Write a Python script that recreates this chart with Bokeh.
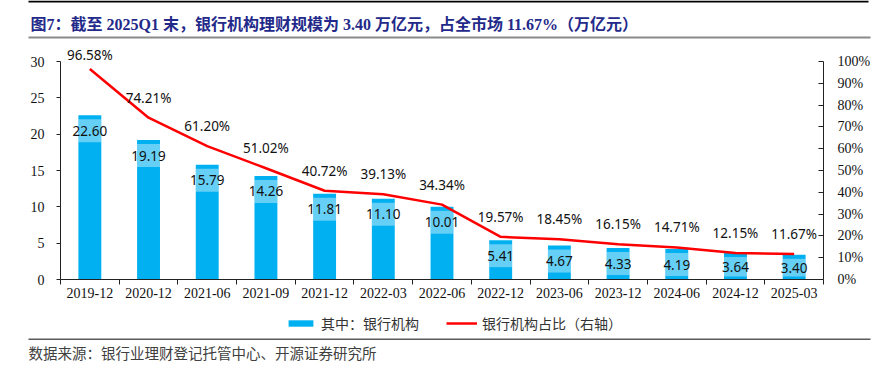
from bokeh.plotting import figure
from bokeh.models import (ColumnDataSource, Range1d, LinearAxis, FixedTicker,
                          PrintfTickFormatter, Legend, LegendItem, Label, BoxAnnotation)
from bokeh.core.properties import value
from bokeh.embed import file_html
from bokeh.resources import INLINE

# ---------------- data ----------------
categories = ["2019-12", "2020-12", "2021-06", "2021-09", "2021-12", "2022-03", "2022-06",
              "2022-12", "2023-06", "2023-12", "2024-06", "2024-12", "2025-03"]
bank_scale = [22.60, 19.19, 15.79, 14.26, 11.81, 11.10, 10.01, 5.41, 4.67, 4.33, 4.19, 3.64, 3.40]
bank_share = [96.58, 74.21, 61.20, 51.02, 40.72, 39.13, 34.34, 19.57, 18.45, 16.15, 14.71, 12.15, 11.67]
left_ticks = [0, 5, 10, 15, 20, 25, 30]
right_ticks = [0, 10, 20, 30, 40, 50, 60, 70, 80, 90, 100]
title_text = "图7：截至 2025Q1 末，银行机构理财规模为 3.40 万亿元，占全市场 11.67%（万亿元）"
source_text = "数据来源：银行业理财登记托管中心、开源证券研究所"
legend_bar = "其中：银行机构"
legend_line = "银行机构占比（右轴）"

# ---------------- layout constants (canvas pixels) ----------------
W, H = 880, 377
AX_L, AX_R, AX_T, AX_B = 60, 823, 61, 279   # where the axes box sits on the canvas

BLUE = "#00B0F0"
RED = "#FF0000"
SERIF = "Liberation Serif"
SANS = "Noto Sans"
CJK = "Noto Sans CJK SC"
AXIS_C = "#222222"

n = len(categories)
xs = list(range(n))
px_cat = (AX_R - AX_L) / n
px_unit = (AX_B - AX_T) / (left_ticks[-1] - left_ticks[0])
x_start = -0.5 - AX_L / px_cat
x_end = n - 0.5 + (W - AX_R) / px_cat
y_start = left_ticks[0] - (H - AX_B) / px_unit
y_end = left_ticks[-1] + AX_T / px_unit
r_scale = (right_ticks[-1] - right_ticks[0]) / (left_ticks[-1] - left_ticks[0])

box_top = [v - 4 / px_unit for v in bank_scale]
box_bot = [max(t - 23 / px_unit, 3 / px_unit) for t in box_top]
box_mid = [(a + b) / 2 for a, b in zip(box_top, box_bot)]
pct_off = [-14] + [-20] * (n - 1)

src = ColumnDataSource(dict(
    x=xs, v=bank_scale, s=bank_share,
    bt=box_top, bb=box_bot, bm=box_mid,
    vl=[f"{v:.2f}" for v in bank_scale],
    sl=[f"{s:.2f}%" for s in bank_share],
    so=pct_off,
))

p = figure(width=W, height=H, output_backend="svg", toolbar_location=None,
           x_range=Range1d(x_start, x_end), y_range=Range1d(y_start, y_end),
           min_border=0, background_fill_color="white", border_fill_color="white")
p.outline_line_color = None
p.xgrid.visible = False
p.ygrid.visible = False
p.extra_y_ranges = {"pct": Range1d(y_start * r_scale, y_end * r_scale)}

bars = p.vbar(x="x", top="v", width=0.39, source=src, fill_color=BLUE, line_color=None)
p.vbar(x="x", top="bt", bottom="bb", width=0.39, source=src,
       fill_color="white", fill_alpha=0.4, line_color=None)
p.text(x="x", y="bm", text="vl", source=src, text_align="center", text_baseline="middle",
       text_font=value(SANS), text_font_size="13.5px", text_color="#111111")

line = p.line(x="x", y="s", source=src, y_range_name="pct", line_color=RED, line_width=2.5)
p.text(x="x", y="s", text="sl", source=src, y_range_name="pct", y_offset="so",
       text_align="center", text_baseline="middle",
       text_font=value(SANS), text_font_size="13.5px", text_color="#111111")

# ---------------- axes ----------------
for ax in [p.xaxis[0], p.yaxis[0]]:
    ax.axis_line_color = AXIS_C
    ax.major_tick_line_color = AXIS_C
    ax.major_label_text_font = SERIF
    ax.major_label_text_font_size = "14px"
    ax.major_label_text_color = "#111111"

ya = p.yaxis[0]
ya.ticker = FixedTicker(ticks=left_ticks)
ya.bounds = (left_ticks[0], left_ticks[-1])
ya.fixed_location = -0.5
ya.major_tick_in = 0
ya.major_tick_out = 4
ya.minor_tick_line_color = None
ya.major_label_standoff = 12

xa = p.xaxis[0]
xa.ticker = FixedTicker(ticks=xs, minor_ticks=[i - 0.5 for i in range(n + 1)])
xa.major_label_overrides = {i: c for i, c in enumerate(categories)}
xa.bounds = (-0.5, n - 0.5)
xa.fixed_location = left_ticks[0]
xa.major_tick_in = 0
xa.major_tick_out = 0
xa.minor_tick_in = 0
xa.minor_tick_out = 5
xa.minor_tick_line_color = AXIS_C
xa.major_label_standoff = 3

ra = LinearAxis(y_range_name="pct", ticker=FixedTicker(ticks=right_ticks),
                formatter=PrintfTickFormatter(format="%d%%"),
                bounds=(right_ticks[0], right_ticks[-1]), fixed_location=n - 0.5)
ra.axis_line_color = AXIS_C
ra.major_tick_line_color = AXIS_C
ra.major_tick_in = 5
ra.major_tick_out = 0
ra.minor_tick_line_color = None
ra.major_label_standoff = 14
ra.major_label_text_font = SERIF
ra.major_label_text_font_size = "14px"
ra.major_label_text_color = "#111111"
p.add_layout(ra, "right")

# ---------------- legend ----------------
legend = Legend(items=[LegendItem(label=legend_bar, renderers=[bars]),
                       LegendItem(label=legend_line, renderers=[line])],
                orientation="horizontal", location=(285, H - 333),
                glyph_width=31, glyph_height=8, label_standoff=5, spacing=27,
                label_height=20, border_line_color=None, background_fill_alpha=0,
                label_text_font=CJK, label_text_font_size="14px", label_text_color="#333333",
                padding=0, margin=0)
p.add_layout(legend)


# ---------------- title, rules, source (screen units, y up from bottom) ----------------
def rule(y_top, thick, color, x0=28, x1=870):
    p.add_layout(BoxAnnotation(left=x0, right=x1, top=H - y_top, bottom=H - y_top - thick,
                               left_units="screen", right_units="screen",
                               top_units="screen", bottom_units="screen",
                               fill_color=color, fill_alpha=1, line_color=None))


rule(0, 2, "#000000", x1=868)
rule(36, 2, "#8A8A8A")
rule(338, 1.5, "#5A5A5A")

p.add_layout(Label(x=30, y=H - 24, x_units="screen", y_units="screen", text=title_text,
                   text_font=f"{SERIF}, {CJK}", text_font_style="bold", text_font_size="16px",
                   text_color="#23298A", text_baseline="middle", text_align="left"))
p.add_layout(Label(x=28, y=H - 352, x_units="screen", y_units="screen", text=source_text,
                   text_font=CJK, text_font_size="14.5px", text_color="#404040",
                   text_baseline="middle", text_align="left"))

open("out.html", "w").write(file_html(p, INLINE))
